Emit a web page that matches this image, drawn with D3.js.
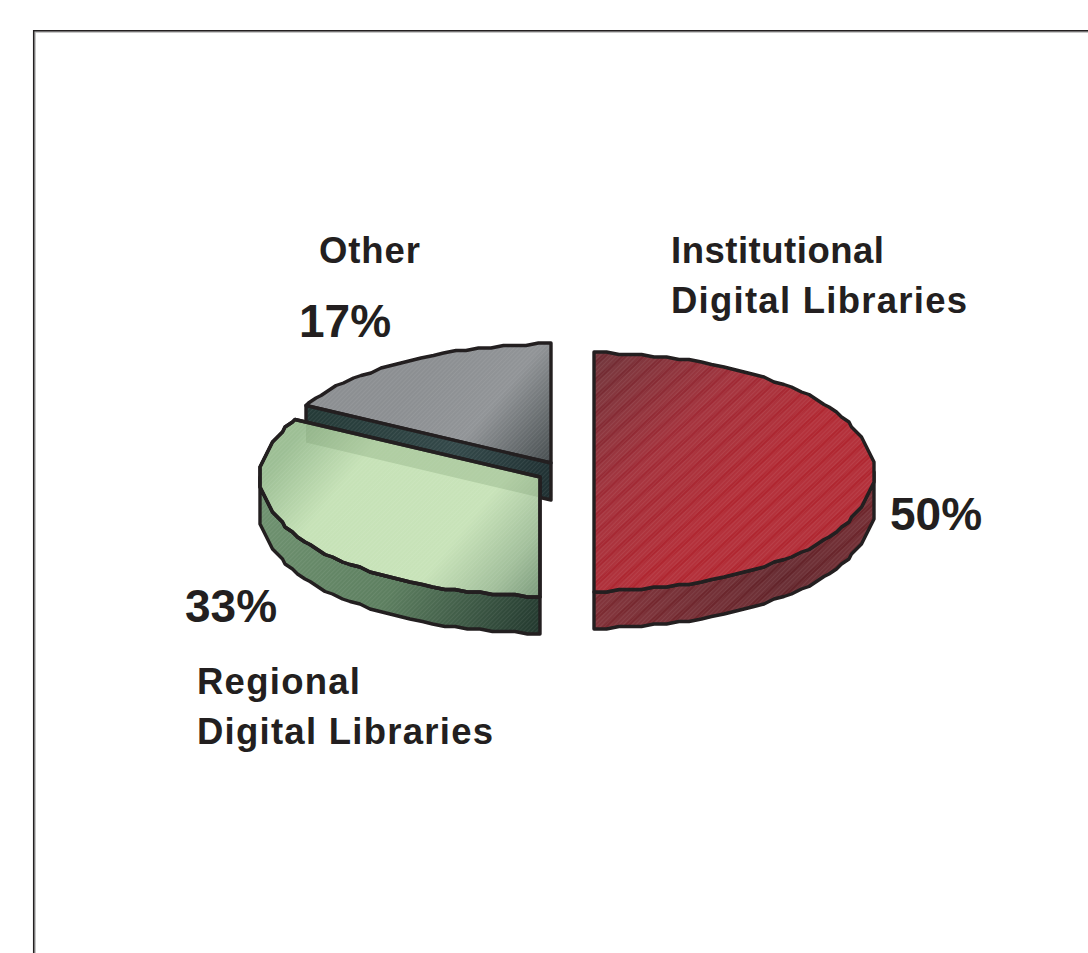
<!DOCTYPE html>
<html>
<head>
<meta charset="utf-8">
<script src="https://cdn.jsdelivr.net/npm/d3@7"></script>
<style>
  html, body { margin: 0; padding: 0; background: #fff; }
  svg { display: block; }
  text { font-family: "Liberation Sans", Arial, sans-serif; font-weight: bold; fill: #231f20; }
</style>
</head>
<body>
<svg id="chart"></svg>
<script>
var categories = ["Institutional Digital Libraries", "Regional Digital Libraries", "Other"];
var shares = [50, 33, 17];
var percentLabels = ["50%", "33%", "17%"];
var categoryLines = [["Institutional", "Digital Libraries"], ["Regional", "Digital Libraries"], ["Other"]];

var width = 1088;
var height = 953;
var rx = 280;
var ry = 119;
var depth = 37;
var ink = "#231f20";

// each slice is pulled out of the pie, so it gets its own centre
var centres = [
    { "x": 594, "y": 472 },
    { "x": 540, "y": 477 },
    { "x": 551, "y": 463 }
];

var svg = d3.select("svg#chart")
    .attr("width", width)
    .attr("height", height);

var defs = svg.append("defs");

function gradient(id, x1, y1, x2, y2, stops) {
    var g = defs.append("linearGradient")
        .attr("id", id)
        .attr("gradientUnits", "userSpaceOnUse")
        .attr("x1", x1).attr("y1", y1)
        .attr("x2", x2).attr("y2", y2);
    stops.forEach(function(s) {
        g.append("stop").attr("offset", s[0]).attr("stop-color", s[1]);
    });
}

gradient("red-top", 600, 360, 730, 500, [[0, "#6e2c33"], [0.55, "#a02a35"], [1, "#b02630"]]);
gradient("red-side", 600, 630, 870, 480, [[0, "#7d2a31"], [0.6, "#62242a"], [1, "#70262c"]]);
gradient("green-top", 310, 420, 545, 610, [[0, "#9dbf95"], [0.22, "#c6e2b7"], [0.62, "#c8e3b9"], [0.82, "#a3c09c"], [1, "#6f8f72"]]);
gradient("green-side", 265, 500, 540, 630, [[0, "#6f9270"], [0.5, "#5d7f60"], [1, "#22382e"]]);
gradient("grey-top", 430, 370, 550, 470, [[0, "#8c8f92"], [0.45, "#919497"], [1, "#434a4c"]]);
gradient("grey-side", 306, 420, 551, 490, [[0, "#243a37"], [0.6, "#34494a"], [1, "#1f3032"]]);

// wide slanted light bands of the red slice
var stripes = defs.append("pattern")
    .attr("id", "stripes")
    .attr("patternUnits", "userSpaceOnUse")
    .attr("width", 13).attr("height", 13)
    .attr("patternTransform", "rotate(-40)");
stripes.append("rect").attr("width", 13).attr("height", 9).attr("fill", "#fff").attr("fill-opacity", 0.05);

// fine screen texture on all the faces
var screen = defs.append("pattern")
    .attr("id", "screen")
    .attr("patternUnits", "userSpaceOnUse")
    .attr("width", 3).attr("height", 3)
    .attr("patternTransform", "rotate(-45)");
screen.append("rect").attr("width", 3).attr("height", 1).attr("fill", "#fff").attr("fill-opacity", 0.07);

var pie = d3.pie().sort(null).value(function(d) { return d; });
var slices = pie(shares);

// Frame
svg.append("path")
    .attr("d", "M35," + height + "V32H" + width)
    .attr("fill", "none").attr("stroke", "#b5b5b5").attr("stroke-width", 1.5);
svg.append("path")
    .attr("d", "M33.7," + height + "V30.7H" + width)
    .attr("fill", "none").attr("stroke", ink).attr("stroke-width", 1.5);

// the source outline is a rough polygon, snapping the rim to a small grid gives the same wobble
var snap = 2.5;
var angleStep = Math.PI / 72;

function rim(c, a, drop) {
    return [
        c.x + Math.round(rx * Math.sin(a) / snap) * snap,
        c.y + Math.round(-ry * Math.cos(a) / snap) * snap + (drop || 0)
    ];
}

// walk a fixed set of angles, so walls and tops share the same rim points
function arcPoints(c, a0, a1, drop) {
    var lo = Math.min(a0, a1);
    var hi = Math.max(a0, a1);
    var angles = [lo];
    for (var k = Math.ceil(lo / angleStep + 1e-6); k * angleStep < hi - 1e-6; k++) {
        angles.push(k * angleStep);
    }
    angles.push(hi);
    if (a1 < a0) angles.reverse();
    return angles.map(function(a) { return rim(c, a, drop); });
}

var line = d3.line();

function topFace(c, s) {
    return line([[c.x, c.y]].concat(arcPoints(c, s.startAngle, s.endAngle))) + "Z";
}

// outer wall, only the part of the rim facing the viewer
function outerWall(c, a0, a1) {
    return line(arcPoints(c, a0, a1).concat(arcPoints(c, a1, a0, depth))) + "Z";
}

// flat cut wall running from the centre to the rim
function cutWall(c, a) {
    var p = rim(c, a);
    return line([[c.x, c.y], p, [p[0], p[1] + depth], [c.x, c.y + depth]]) + "Z";
}

function face(d, fill, sw) {
    var g = svg.append("g");
    g.append("path").attr("d", d).attr("fill", fill);
    g.append("path").attr("d", d).attr("fill", "url(#screen)");
    g.append("path").attr("d", d).attr("fill", "none")
        .attr("stroke", ink).attr("stroke-width", sw || 3.4).attr("stroke-linejoin", "round");
    return g;
}

// Other
var greyWall = cutWall(centres[2], slices[2].startAngle);
face(topFace(centres[2], slices[2]), "url(#grey-top)");
face(greyWall, "url(#grey-side)");

// Regional
face(outerWall(centres[1], Math.PI * 1.5, Math.PI), "url(#green-side)");
face(topFace(centres[1], slices[1]), "url(#green-top)");

// the grey wall shows through the green top as a darker band
defs.append("clipPath").attr("id", "green-clip")
    .append("path").attr("d", topFace(centres[1], slices[1]));
svg.append("path")
    .attr("d", greyWall)
    .attr("clip-path", "url(#green-clip)")
    .attr("fill", "#7f9f74")
    .attr("fill-opacity", 0.3);
svg.append("path")
    .attr("d", topFace(centres[1], slices[1]))
    .attr("fill", "none").attr("stroke", ink).attr("stroke-width", 3.4).attr("stroke-linejoin", "round");

// Institutional
var redWall = outerWall(centres[0], Math.PI / 2, Math.PI);
var redWallG = face(redWall, "url(#red-side)");
redWallG.insert("path", "path:nth-child(2)").attr("d", redWall).attr("fill", "url(#stripes)");
var redTop = topFace(centres[0], slices[0]);
var redTopG = face(redTop, "url(#red-top)");
redTopG.insert("path", "path:nth-child(2)").attr("d", redTop).attr("fill", "url(#stripes)");

// Labels
var labelSpots = [
    { "x": 671, "y": 263, "px": 890, "py": 530, "w": [213, 296] },
    { "x": 197, "y": 694, "px": 185, "py": 622, "w": [163, 296] },
    { "x": 319, "y": 263, "px": 299, "py": 337, "w": [101] }
];

categoryLines.forEach(function(lines, i) {
    svg.selectAll(null)
        .data(lines)
        .enter()
        .append("text")
        .attr("x", labelSpots[i].x)
        .attr("y", function(d, j) { return labelSpots[i].y + j * 49.5; })
        .attr("textLength", function(d, j) { return labelSpots[i].w[j]; })
        .attr("lengthAdjust", "spacing")
        .style("font-size", "36.5px")
        .text(function(d) { return d; });
});

svg.selectAll(null)
    .data(percentLabels)
    .enter()
    .append("text")
    .attr("x", function(d, i) { return labelSpots[i].px; })
    .attr("y", function(d, i) { return labelSpots[i].py; })
    .style("font-size", "46px")
    .text(function(d) { return d; });
</script>
</body>
</html>
